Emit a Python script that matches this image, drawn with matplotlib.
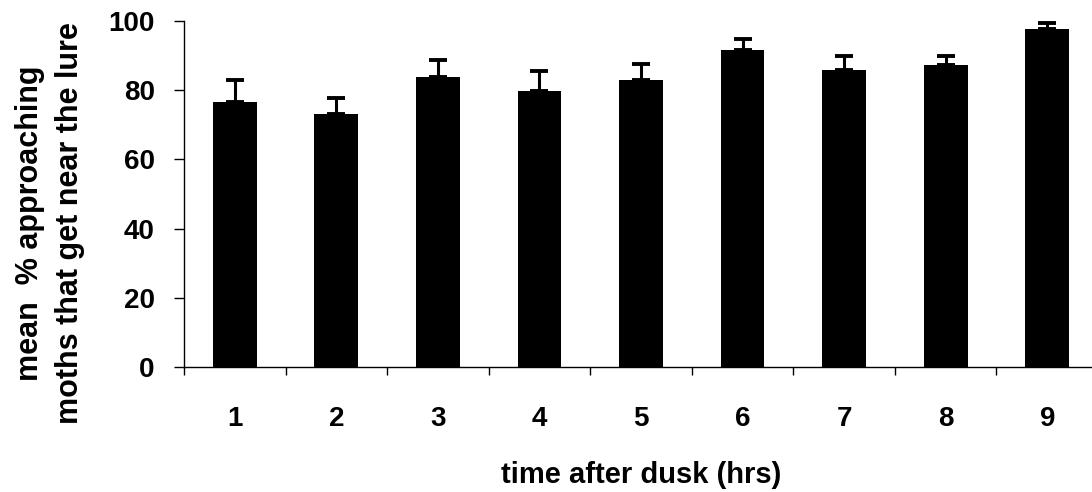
import numpy as np
import matplotlib
matplotlib.use("Agg")
import matplotlib.pyplot as plt

plt.rcParams["font.family"] = ["Liberation Sans", "DejaVu Sans"]
plt.rcParams["font.weight"] = "bold"

# mean % of approaching moths reaching the lure, per hour after dusk
hours = ["1", "2", "3", "4", "5", "6", "7", "8", "9"]
mean_pct = [76.7, 73.2, 83.7, 79.9, 82.9, 91.6, 85.8, 87.2, 97.7]
se_upper = [6.2, 4.6, 5.0, 5.6, 4.6, 3.3, 4.2, 2.8, 1.6]

fig = plt.figure(figsize=(10.92, 4.92), dpi=100)
ax = fig.add_axes([184 / 1092, 125 / 492, 914 / 1092, 346 / 492])

x = np.arange(1, len(hours) + 1)
ax.bar(x, mean_pct, width=0.43, color="black", zorder=2)
ax.errorbar(x, mean_pct, yerr=[np.zeros(len(x)), se_upper], fmt="none",
            ecolor="black", elinewidth=2.2, capsize=6.5, capthick=2.8, zorder=3)

ax.set_xlim(0.5, len(hours) + 0.5)
ax.set_ylim(0, 100)
ax.set_yticks(np.arange(0, 101, 20))
ax.set_xticks(x)
ax.set_xticklabels(hours)
ax.set_xticks(np.arange(0.5, len(hours) + 1, 1.0), minor=True)

for side in ("top", "right"):
    ax.spines[side].set_visible(False)
for side in ("left", "bottom"):
    ax.spines[side].set_linewidth(1.0)

ax.tick_params(axis="x", which="major", length=0, pad=28, labelsize=20)
ax.tick_params(axis="x", which="minor", length=6, width=1.0, direction="out")
ax.tick_params(axis="y", length=7, width=1.0, pad=14, labelsize=20)

ax.set_xlabel("time after dusk (hrs)", fontsize=21, fontweight="bold", labelpad=21)
fig.text(50 / 1092, 1 - 223 / 492, "mean  % approaching\nmoths that get near the lure",
         rotation=90, ha="center", va="center", multialignment="center",
         fontsize=22, fontweight="bold", linespacing=1.45)

fig.savefig("out.png", dpi=100)
